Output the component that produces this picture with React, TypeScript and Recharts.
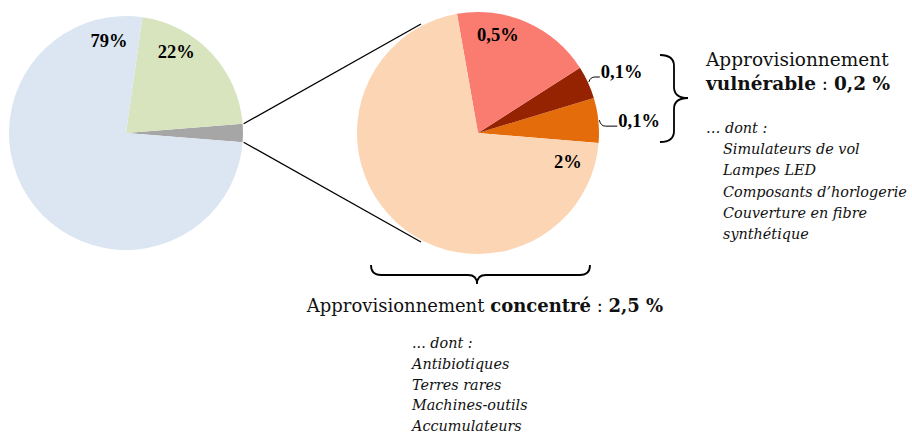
import { PieChart, Pie, Cell } from "recharts";

// vue d'ensemble (camembert de gauche), ordre anti-horaire depuis 3h
const overviewNames = ["Concentré", "Dépendant", "Autres"];
const overviewValues = [2.5, 21.5, 76];
const overviewLabels = ["", "22%", "79%"];
const overviewColors = ["#a6a6a6", "#d7e4bd", "#dce6f2"];

// détail de l'approvisionnement concentré (camembert de droite)
const detailNames = ["Vulnérable (a)", "Vulnérable (b)", "Concentré (c)", "Concentré (d)"];
const detailValues = [0.15, 0.11, 0.47, 1.78];
const detailLabels = ["0,1%", "0,1%", "0,5%", "2%"];
const detailColors = ["#e46c0a", "#952200", "#fa7c70", "#fcd5b5"];

const vulnerableList = ["Simulateurs de vol", "Lampes LED", "Composants d\u2019horlogerie", "Couverture en fibre", "synthétique"];
const concentratedList = ["Antibiotiques", "Terres rares", "Machines-outils", "Accumulateurs"];

const overviewData = overviewNames.map((name, i) => ({ name, value: overviewValues[i] }));
const detailData = detailNames.map((name, i) => ({ name, value: detailValues[i] }));

const FONT = "'DejaVu Serif', serif";
const RADIAN = Math.PI / 180;
const LEFT = { cx: 126, cy: 133, r: 117, start: -4.5 };
const RIGHT = { cx: 478, cy: 133, r: 121, start: -4.7 };

const polar = (cx: number, cy: number, r: number, angle: number) => ({
    x: cx + r * Math.cos(-angle * RADIAN),
    y: cy + r * Math.sin(-angle * RADIAN),
});

// où poser les étiquettes (angle, rayon) ; out = étiquette extérieure avec trait
const overviewLabelAt = [null, { angle: 58, r: 95 }, { angle: 100.4, r: 94 }];
const detailLabelAt: any[] = [
    { out: true, dx: 19, dy: 6 },
    { out: true, dx: 12, dy: -5 },
    { angle: 78.5, r: 100 },
    { angle: -18, r: 94.5 },
];

const pctStyle = { fontFamily: "'Liberation Serif', serif", fontWeight: 700, fontSize: 18.5, fill: "#000" };

const renderLabel = (texts: string[], where: any[]) => (props: any) => {
    const { cx, cy, midAngle, outerRadius, index } = props;
    const w = where[index];
    const txt = texts[index];
    if (!w || !txt) return null;
    if (w.out) {
        const s = polar(cx, cy, outerRadius + 1, midAngle);
        const ex = s.x + w.dx - 1;
        const ey = s.y + w.dy;
        const d = `M${s.x},${s.y} Q${s.x + 1.5},${ey} ${s.x + 6},${ey} L${ex},${ey}`;
        return (
            <g key={`lbl-${index}`}>
                <path d={d} stroke="#000" strokeWidth={1} fill="none" />
                <text x={ex + 1} y={ey + 1} textAnchor="start" style={pctStyle}>{txt}</text>
            </g>
        );
    }
    const p = polar(cx, cy, w.r, w.angle);
    return (
        <text key={`lbl-${index}`} x={p.x} y={p.y} textAnchor="middle" dominantBaseline="central" style={pctStyle}>
            {txt}
        </text>
    );
};

export default function App() {
    const l1 = polar(LEFT.cx, LEFT.cy, LEFT.r + 1, 4.5);
    const l2 = polar(LEFT.cx, LEFT.cy, LEFT.r + 1, -4.5);
    const r1 = polar(RIGHT.cx, RIGHT.cy, RIGHT.r + 2, 117.6);
    const r2 = polar(RIGHT.cx, RIGHT.cy, RIGHT.r + 2, -117.6);

    return (
        <div style={{ position: "absolute", left: 0, top: 0, width: 912, height: 436, background: "#fff" }}>
            <PieChart width={912} height={436} margin={{ top: 0, right: 0, bottom: 0, left: 0 }}>
                <Pie
                    data={overviewData}
                    dataKey="value"
                    cx={LEFT.cx}
                    cy={LEFT.cy}
                    outerRadius={LEFT.r}
                    startAngle={LEFT.start}
                    endAngle={LEFT.start + 360}
                    stroke="none"
                    labelLine={false}
                    label={renderLabel(overviewLabels, overviewLabelAt)}
                    isAnimationActive={false}
                >
                    {overviewData.map((entry, index) => (
                        <Cell key={`ov-${index}`} fill={overviewColors[index]} />
                    ))}
                </Pie>
                <Pie
                    data={detailData}
                    dataKey="value"
                    cx={RIGHT.cx}
                    cy={RIGHT.cy}
                    outerRadius={RIGHT.r}
                    startAngle={RIGHT.start}
                    endAngle={RIGHT.start + 360}
                    stroke="none"
                    labelLine={false}
                    label={renderLabel(detailLabels, detailLabelAt)}
                    isAnimationActive={false}
                >
                    {detailData.map((entry, index) => (
                        <Cell key={`dt-${index}`} fill={detailColors[index]} />
                    ))}
                </Pie>
            </PieChart>

            <svg width={912} height={436} style={{ position: "absolute", left: 0, top: 0, pointerEvents: "none" }}>
                {/* lignes de zoom */}
                <line x1={l1.x} y1={l1.y} x2={r1.x} y2={r1.y} stroke="#000" strokeWidth={1.3} />
                <line x1={l2.x} y1={l2.y} x2={r2.x} y2={r2.y} stroke="#000" strokeWidth={1.3} />

                {/* accolades */}
                <path
                    d="M660,55 Q674,55 674,66 L674,87 Q674,98 688,98 Q674,98 674,109 L674,131 Q674,142 660,142"
                    stroke="#000" strokeWidth={1.8} fill="none"
                />
                <path
                    d="M371,265 Q371,275 381,275 L468,275 Q477,275 477,284 Q477,275 486,275 L580,275 Q590,275 590,265"
                    stroke="#000" strokeWidth={1.8} fill="none"
                />

                {/* bloc vulnérable */}
                <g style={{ fontFamily: FONT, fontSize: 18.5, fill: "#111" }}>
                    <text x={706} y={66}>Approvisionnement</text>
                    <text x={706} y={90}>
                        <tspan fontWeight={700}>vulnérable</tspan> : <tspan fontWeight={700}>0,2 %</tspan>
                    </text>
                </g>
                <g style={{ fontFamily: FONT, fontSize: 14.4, fontStyle: "italic", fill: "#111" }}>
                    <text x={706} y={133}>… dont :</text>
                    {vulnerableList.map((t, i) => (
                        <text key={t} x={723} y={154 + i * 21.3}>{t}</text>
                    ))}
                </g>

                {/* bloc concentré */}
                <text x={485} y={312} textAnchor="middle" style={{ fontFamily: FONT, fontSize: 18, fill: "#111" }}>
                    Approvisionnement <tspan fontWeight={700}>concentré</tspan> : <tspan fontWeight={700}>2,5 %</tspan>
                </text>
                <g style={{ fontFamily: FONT, fontSize: 14.4, fontStyle: "italic", fill: "#111" }}>
                    <text x={412} y={348}>... dont :</text>
                    {concentratedList.map((t, i) => (
                        <text key={t} x={412} y={369 + i * 20.7}>{t}</text>
                    ))}
                </g>
            </svg>
        </div>
    );
}
